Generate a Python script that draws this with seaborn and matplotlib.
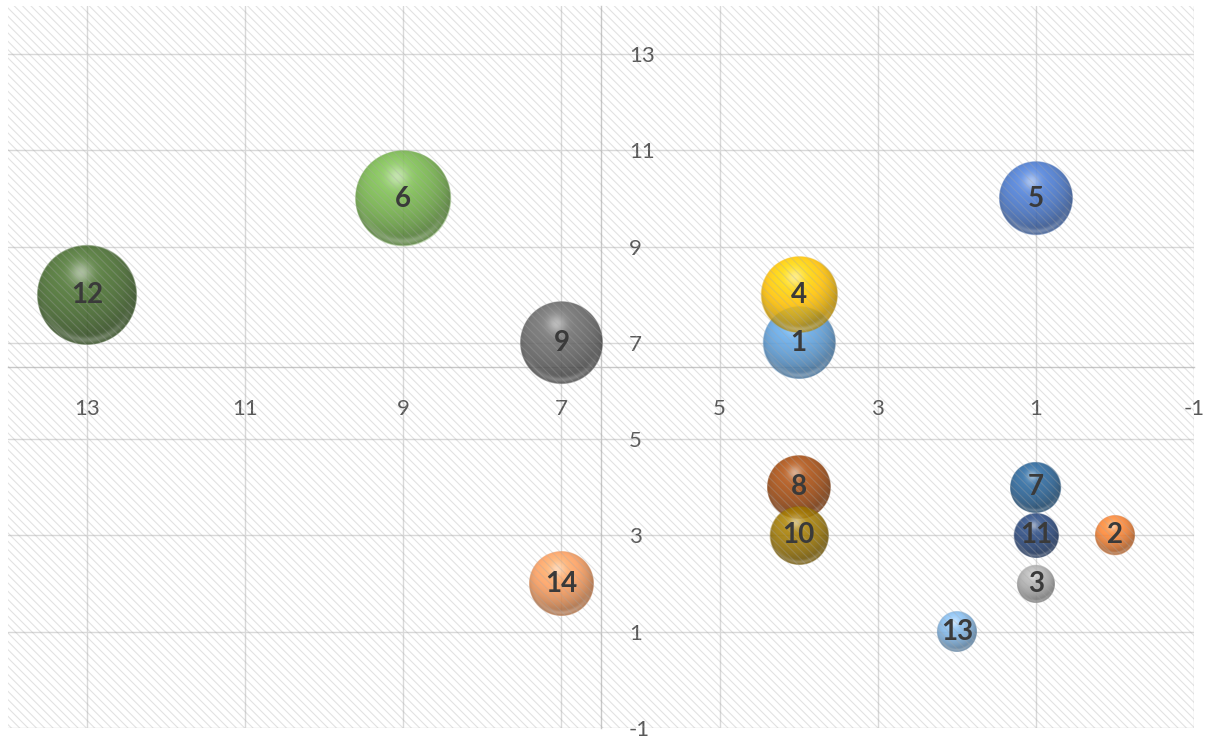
import numpy as np
import pandas as pd
import matplotlib
matplotlib.use("Agg")
import matplotlib.pyplot as plt
import seaborn as sns
from matplotlib.patches import Rectangle

# ---- data -------------------------------------------------------------
labels = ["1", "2", "3", "4", "5", "6", "7", "8", "9", "10", "11", "12", "13", "14"]
x_vals = [4, 0, 1, 4, 1, 9, 1, 4, 7, 4, 1, 13, 2, 7]
y_vals = [7, 3, 2, 8, 10, 10, 4, 4, 7, 3, 3, 8, 1, 2]
bubble = [13, 4, 3.6, 14.5, 13.5, 23, 6.5, 10, 17, 8.5, 5, 25, 4, 10.5]
colors = ["#5B9BD5", "#ED7D31", "#A5A5A5", "#FFC000", "#4472C4", "#70AD47",
          "#255E91", "#9E480E", "#636363", "#997300", "#264478", "#43682B",
          "#7CAFDD", "#F1975A"]
x_ticks = [13, 11, 9, 7, 5, 3, 1, -1]
y_ticks = [-1, 1, 3, 5, 7, 9, 11, 13]

df = pd.DataFrame({"label": labels, "x": x_vals, "y": y_vals, "bubble": bubble})

# ---- figure -----------------------------------------------------------
sns.set_style("white")
plt.rcParams["font.family"] = ["Lato", "DejaVu Sans"]
plt.rcParams["hatch.linewidth"] = 0.8
plt.rcParams["axes.unicode_minus"] = False

W, H, DPI = 1211, 743, 100
fig = plt.figure(figsize=(W / DPI, H / DPI), dpi=DPI)
ax_l, ax_b, ax_w, ax_h = 8, 15, 1186, 722
ax = fig.add_axes([ax_l / W, ax_b / H, ax_w / W, ax_h / H])

XLIM = (14, -1)
YLIM = (-1, 14)
MAX_AREA = 5184  # marker area (pt^2) of the largest bubble

sns.scatterplot(data=df, x="x", y="y", hue="label", palette=colors,
                size="bubble", sizes=(0, MAX_AREA), size_norm=(0, 25),
                alpha=0.3, edgecolor="none", legend=False, ax=ax, zorder=2)


def sphere_image(rgb, n=220, alpha=0.82):
    """RGBA image of a shaded glossy sphere in the given base colour."""
    t = np.linspace(-1, 1, n)
    u, v = np.meshgrid(t, t)
    rr = u ** 2 + v ** 2
    r = np.sqrt(rr)
    nz = np.sqrt(np.clip(1 - rr, 0, 1))
    L = np.array([-0.2, 0.55, 0.8])
    L = L / np.linalg.norm(L)
    diff = np.clip(u * L[0] + v * L[1] + nz * L[2], 0, 1)
    shade = 0.68 + 0.48 * diff
    base = np.array(rgb)[None, None, :]
    col = np.clip(base * shade[..., None], 0, 1)
    spec = 0.5 * np.exp(-((u + 0.12) ** 2 + (v - 0.45) ** 2) / 0.05)
    col = col + (1 - col) * spec[..., None]
    refl = 0.3 * np.clip(-v, 0, 1) ** 1.5 * np.exp(-((r - 0.9) ** 2) / 0.004)
    col = col + (1 - col) * refl[..., None]
    a = np.clip((1 - r) * n / 2.5, 0, 1) * alpha
    return np.dstack([col, a])


# shaded spheres drawn on top of the scatter markers, same centres and sizes
coll = ax.collections[0]
offsets = coll.get_offsets()
areas = coll.get_sizes()
faces = coll.get_facecolors()
px_per_x = ax_w / abs(XLIM[1] - XLIM[0])
px_per_y = ax_h / abs(YLIM[1] - YLIM[0])
for i, ((cx, cy), s, fc) in enumerate(zip(offsets, areas, faces)):
    r_px = np.sqrt(s) / 2 * DPI / 72
    rx, ry = r_px / px_per_x, r_px / px_per_y
    img = sphere_image(fc[:3])
    ax.imshow(img, extent=(cx + rx, cx - rx, cy - ry, cy + ry), origin="lower",
              aspect="auto", interpolation="bilinear", zorder=3 + i * 0.01)
    ax.text(cx, cy, df["label"][i], ha="center", va="center", fontsize=20,
            fontweight="bold", color="#3A3A3A", zorder=40)

# ---- axes -------------------------------------------------------------
ax.set_xlim(*XLIM)
ax.set_ylim(*YLIM)
ax.set_xticks(x_ticks)
ax.set_yticks(y_ticks)
ax.set_xlabel("")
ax.set_ylabel("")
ax.grid(True, color="#D9D9D9", linewidth=1)
ax.set_axisbelow(True)

for side in ("top", "left"):
    ax.spines[side].set_visible(False)
ax.spines["bottom"].set_position(("data", 6.5))
ax.spines["right"].set_position(("data", 6.5))
for side in ("bottom", "right"):
    ax.spines[side].set_color("#C8C8C8")
    ax.spines[side].set_linewidth(1)
    ax.spines[side].set_zorder(1.5)
ax.yaxis.tick_right()
ax.tick_params(axis="x", length=0, pad=23, labelsize=16, labelcolor="#595959")
ax.tick_params(axis="y", length=0, pad=20, labelsize=16, labelcolor="#595959")
for lab in ax.get_xticklabels() + ax.get_yticklabels():
    lab.set_zorder(35)

# diagonal pattern fill across the plot area
ax.add_patch(Rectangle((0, 0), 1, 1, transform=ax.transAxes, fill=False,
                       hatch="\\\\\\\\", edgecolor=(0.65, 0.65, 0.65, 0.32),
                       linewidth=0, zorder=20))

fig.savefig("out.png", dpi=DPI)
